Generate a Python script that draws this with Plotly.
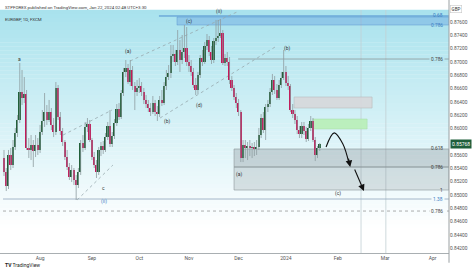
import plotly.graph_objects as go
import pandas as pd

# ---------------- data ----------------
start_date = "2023-07-10"
end_date = "2024-04-30"

opens = [
    0.85556, 0.85346, 0.85135, 0.85602, 0.85451, 0.85722, 0.85932, 0.86128, 0.86549, 0.86459,
    0.86519, 0.85707, 0.85677, 0.85752, 0.85662, 0.85752, 0.85677, 0.85947, 0.86113, 0.86248,
    0.86128, 0.86248, 0.86053, 0.85947, 0.86609, 0.86173, 0.85962, 0.85797, 0.85571, 0.85421,
    0.85271, 0.85376, 0.85226, 0.85150, 0.85346, 0.85782, 0.85707, 0.86023, 0.86068, 0.85827,
    0.85571, 0.85451, 0.85346, 0.85677, 0.85737, 0.85677, 0.85872, 0.86038, 0.85767, 0.85887,
    0.86083, 0.86293, 0.86173, 0.86534, 0.86850, 0.86910, 0.86699, 0.86880, 0.86639, 0.86549,
    0.86609, 0.86639, 0.86549, 0.86429, 0.86368, 0.86308, 0.86248, 0.86383, 0.86248, 0.86218,
    0.86429, 0.86383, 0.86639, 0.86774, 0.86835, 0.87090, 0.87120, 0.87000, 0.87181, 0.87030,
    0.87150, 0.87211, 0.87000, 0.86940, 0.86850, 0.86654, 0.86579, 0.86805, 0.87060, 0.87000,
    0.87241, 0.87331, 0.87150, 0.87030, 0.87316, 0.87361, 0.87391, 0.87436, 0.86985, 0.87060,
    0.87000, 0.86729, 0.86609, 0.86474, 0.86383, 0.86248, 0.85556, 0.85752, 0.85707, 0.85737,
    0.85707, 0.85722, 0.85692, 0.85722, 0.85902, 0.86158, 0.85977, 0.86323, 0.86368, 0.86549,
    0.86729, 0.86579, 0.86459, 0.86654, 0.86759, 0.86850, 0.86684, 0.86639, 0.86278, 0.86218,
    0.86128, 0.85977, 0.85917, 0.86038, 0.85962, 0.85842, 0.86008, 0.86113, 0.85827, 0.85602,
    0.85707]
highs = [
    0.85677, 0.85406, 0.85677, 0.85707, 0.85827, 0.86008, 0.86203, 0.86985, 0.86880, 0.86774,
    0.86579, 0.85857, 0.85902, 0.85827, 0.85902, 0.85857, 0.86053, 0.86278, 0.86534, 0.86353,
    0.86429, 0.86308, 0.86158, 0.86699, 0.86654, 0.86248, 0.86008, 0.85827, 0.85677, 0.85481,
    0.85451, 0.85406, 0.85301, 0.85406, 0.85827, 0.85902, 0.86098, 0.86158, 0.86128, 0.85857,
    0.85647, 0.85526, 0.85722, 0.85797, 0.85812, 0.85932, 0.86098, 0.86278, 0.85947, 0.86143,
    0.86368, 0.86383, 0.86579, 0.86910, 0.87030, 0.86970, 0.87030, 0.86940, 0.86699, 0.86729,
    0.86759, 0.86699, 0.86609, 0.86504, 0.86429, 0.86383, 0.86489, 0.86429, 0.86338, 0.86489,
    0.86579, 0.86699, 0.86880, 0.86955, 0.87256, 0.87256, 0.87181, 0.87481, 0.87331, 0.87406,
    0.87556, 0.87526, 0.87105, 0.87030, 0.86910, 0.86759, 0.86850, 0.87105, 0.87181, 0.87301,
    0.87421, 0.87391, 0.87241, 0.87361, 0.87632, 0.87632, 0.87647, 0.87481, 0.87120, 0.87150,
    0.87075, 0.86790, 0.86654, 0.86534, 0.86444, 0.86278, 0.85827, 0.85827, 0.85797, 0.85827,
    0.85782, 0.85797, 0.85827, 0.86008, 0.86218, 0.86248, 0.86368, 0.86429, 0.86609, 0.86820,
    0.86790, 0.86669, 0.86729, 0.86850, 0.87181, 0.86940, 0.86790, 0.86669, 0.86368, 0.86278,
    0.86188, 0.86038, 0.86098, 0.86098, 0.86023, 0.86068, 0.86188, 0.86158, 0.85872, 0.85737,
    0.85782]
lows = [
    0.85286, 0.85060, 0.85090, 0.85376, 0.85406, 0.85677, 0.85872, 0.86083, 0.86353, 0.86383,
    0.85677, 0.85556, 0.85526, 0.85421, 0.85571, 0.85602, 0.85632, 0.85902, 0.86023, 0.86053,
    0.86098, 0.85977, 0.85872, 0.85902, 0.86128, 0.85902, 0.85737, 0.85526, 0.85376, 0.85226,
    0.85195, 0.85150, 0.84925, 0.85105, 0.85301, 0.85647, 0.85677, 0.85947, 0.85797, 0.85526,
    0.85406, 0.85256, 0.85301, 0.85586, 0.85617, 0.85647, 0.85827, 0.85722, 0.85722, 0.85842,
    0.86038, 0.86128, 0.86143, 0.86489, 0.86774, 0.86669, 0.86639, 0.86579, 0.86278, 0.86489,
    0.86534, 0.86489, 0.86368, 0.86308, 0.86248, 0.86188, 0.86218, 0.86188, 0.86113, 0.86173,
    0.86338, 0.86353, 0.86579, 0.86729, 0.86759, 0.87000, 0.86940, 0.86955, 0.86850, 0.86970,
    0.87060, 0.86940, 0.86850, 0.86790, 0.86609, 0.86504, 0.86519, 0.86759, 0.86940, 0.86970,
    0.87181, 0.87090, 0.86970, 0.86985, 0.87256, 0.87301, 0.87361, 0.86955, 0.86940, 0.86940,
    0.86669, 0.86564, 0.86429, 0.86308, 0.86188, 0.85496, 0.85496, 0.85556, 0.85526, 0.85586,
    0.85556, 0.85586, 0.85602, 0.85677, 0.85857, 0.85932, 0.85827, 0.86248, 0.86323, 0.86504,
    0.86519, 0.86429, 0.86429, 0.86609, 0.86729, 0.86639, 0.86579, 0.86248, 0.86158, 0.86068,
    0.85917, 0.85857, 0.85857, 0.85902, 0.85797, 0.85812, 0.85962, 0.85797, 0.85511, 0.85556,
    0.85662]
closes = [
    0.85346, 0.85135, 0.85602, 0.85451, 0.85722, 0.85932, 0.86128, 0.86549, 0.86459, 0.86519,
    0.85707, 0.85677, 0.85752, 0.85662, 0.85752, 0.85677, 0.85947, 0.86113, 0.86248, 0.86128,
    0.86248, 0.86053, 0.85947, 0.86609, 0.86173, 0.85962, 0.85797, 0.85571, 0.85421, 0.85271,
    0.85376, 0.85226, 0.85150, 0.85346, 0.85782, 0.85707, 0.86023, 0.86068, 0.85827, 0.85571,
    0.85451, 0.85346, 0.85677, 0.85737, 0.85677, 0.85872, 0.86038, 0.85767, 0.85887, 0.86083,
    0.86293, 0.86173, 0.86534, 0.86850, 0.86910, 0.86699, 0.86880, 0.86639, 0.86549, 0.86609,
    0.86639, 0.86549, 0.86429, 0.86368, 0.86308, 0.86248, 0.86383, 0.86248, 0.86218, 0.86429,
    0.86383, 0.86639, 0.86774, 0.86835, 0.87090, 0.87120, 0.87000, 0.87181, 0.87030, 0.87150,
    0.87211, 0.87000, 0.86940, 0.86850, 0.86654, 0.86579, 0.86805, 0.87060, 0.87000, 0.87241,
    0.87331, 0.87150, 0.87030, 0.87316, 0.87361, 0.87391, 0.87436, 0.86985, 0.87060, 0.87000,
    0.86729, 0.86609, 0.86474, 0.86383, 0.86248, 0.85556, 0.85752, 0.85707, 0.85737, 0.85707,
    0.85722, 0.85692, 0.85722, 0.85902, 0.86158, 0.85977, 0.86323, 0.86368, 0.86549, 0.86729,
    0.86579, 0.86459, 0.86654, 0.86759, 0.86850, 0.86684, 0.86639, 0.86278, 0.86218, 0.86128,
    0.85977, 0.85917, 0.86038, 0.85962, 0.85842, 0.86008, 0.86113, 0.85827, 0.85602, 0.85707,
    0.85768]

month_labels = ["Aug", "Sep", "Oct", "Nov", "Dec", "2024", "Feb", "Mar", "Apr"]
price_ticks = [0.842, 0.844, 0.846, 0.848, 0.850, 0.852, 0.854, 0.856,
               0.860, 0.862, 0.864, 0.866, 0.868, 0.870, 0.872, 0.874, 0.876]
last_price = 0.85768

# fib-style levels: (price, label, label colour)
fib_levels_top = [(0.87692, "0.68", "#3d7fc4"), (0.87556, "0.786", "#3d7fc4")]
level_786_top = 0.87045
box_levels = [0.85692, 0.85421, 0.85075]
box_labels = ["0.618", "0.786", "1"]
level_138 = 0.84940
level_786_low = 0.84759

# wave labels (bar index, price, text, colour)
wave_labels = [
    (7.0, 0.87050, "a", "#333333"),
    (54.9, 0.87160, "(a)", "#333333"),
    (72.3, 0.86098, "(b)", "#333333"),
    (82.0, 0.87602, "(c)", "#333333"),
    (86.5, 0.86353, "(d)", "#333333"),
    (95.3, 0.87765, "(ii)", "#333333"),
    (125.5, 0.87206, "(b)", "#333333"),
    (104.2, 0.85301, "(a)", "#333333"),
    (148.1, 0.85030, "(c)", "#333333"),
    (43.9, 0.85105, "c", "#333333"),
    (44.3, 0.84905, "(ii)", "#3d7fc4"),
]

# trend lines (x0, y0, x1, y1) in bar index / price
trend_lines = [
    (55.9, 0.87015, 103.3, 0.87752),
    (69.2, 0.86158, 120.2, 0.87226),
    (26.2, 0.85902, 47.9, 0.86278),
    (32.4, 0.84925, 48.3, 0.85451),
]

# ---------------- geometry helpers ----------------
days = pd.bdate_range(start_date, end_date)
n = len(opens)
month_pos = [i for i in range(1, len(days)) if days[i].month != days[i - 1].month]

X0, X1 = -1.77, 197.3
Y0, Y1 = 0.84128, 0.87782

GREEN = "#22603a"
RED = "#c4195a"
WICK = "#8e9ca0"

TOP = (168, 226, 237)


def bg_at(t):
    """t = 0 at top of pane, 1 at bottom"""
    f = min(1.0, t / 0.9)
    r = [round(c + (255 - c) * f) for c in TOP]
    return "rgb(%d,%d,%d)" % tuple(r)


fig = go.Figure()

# wicks
wx, wy = [], []
for i, (h, l) in enumerate(zip(highs, lows)):
    wx += [i, i, None]
    wy += [l, h, None]
fig.add_trace(go.Scatter(x=wx, y=wy, mode="lines", line=dict(color=WICK, width=0.8),
                         hoverinfo="skip", showlegend=False))

# bodies
base = [min(o, c) for o, c in zip(opens, closes)]
height = [max(abs(c - o), 0.00006) for o, c in zip(opens, closes)]
cols = [GREEN if c >= o else RED for o, c in zip(opens, closes)]
fig.add_trace(go.Bar(x=list(range(n)), y=height, base=base, width=0.72,
                     marker=dict(color=cols, line=dict(width=0)), showlegend=False))

# projection arrows
fig.add_trace(go.Scatter(x=[142.8, 146.4, 150.2, 153.0], y=[0.85722, 0.85935, 0.85770, 0.85470],
                         mode="lines", line=dict(color="#111111", width=1.1, shape="spline"),
                         showlegend=False, hoverinfo="skip"))

shapes = []
# gradient background
NB = 60
for k in range(NB):
    shapes.append(dict(type="rect", xref="paper", yref="paper", x0=0, x1=1,
                       y0=1 - (k + 1) / NB, y1=1 - k / NB + 0.001,
                       fillcolor=bg_at((k + 0.5) / NB), line=dict(width=0), layer="below"))

# blue band at top
shapes.append(dict(type="rect", x0=76.7, x1=X1, y0=fib_levels_top[1][0], y1=0.87677,
                   fillcolor="rgba(90,150,220,0.35)", line=dict(color="rgba(70,130,200,0.6)", width=0.6),
                   layer="below"))
shapes.append(dict(type="line", x0=68.7, x1=X1, y0=fib_levels_top[0][0], y1=fib_levels_top[0][0],
                   line=dict(color="#4f8fcf", width=1), layer="below"))
# 0.786 upper
shapes.append(dict(type="line", x0=103.8, x1=X1, y0=level_786_top, y1=level_786_top,
                   line=dict(color="#7d8a8e", width=0.7), layer="below"))
# lower grey boxes
shapes.append(dict(type="rect", x0=102.0, x1=X1, y0=box_levels[1], y1=box_levels[0],
                   fillcolor="rgba(110,120,125,0.28)", line=dict(color="#8a9497", width=0.6), layer="below"))
shapes.append(dict(type="rect", x0=102.0, x1=X1, y0=box_levels[2], y1=box_levels[1],
                   fillcolor="rgba(110,120,125,0.20)", line=dict(color="#8a9497", width=0.6), layer="below"))
# 1.38 and dashed 0.786
shapes.append(dict(type="line", x0=-0.44, x1=X1, y0=level_138, y1=level_138,
                   line=dict(color="#90a6bd", width=0.8), layer="below"))
shapes.append(dict(type="line", x0=-0.44, x1=X1, y0=level_786_low, y1=level_786_low,
                   line=dict(color="#8a8a8a", width=0.7, dash="dot"), layer="below"))
# vertical lines
for vx in [158.3, 169.3]:
    shapes.append(dict(type="line", x0=vx, x1=vx, yref="paper", y0=0, y1=1,
                       line=dict(color="#c3d0d4", width=0.8), layer="below"))
# top grey box and green box
shapes.append(dict(type="rect", x0=128.6, x1=163.2, y0=0.86308, y1=0.86474,
                   fillcolor="rgba(215,215,218,0.9)", line=dict(color="#b8bcbe", width=0.6), layer="below"))
shapes.append(dict(type="rect", x0=137.0, x1=161.0, y0=0.85993, y1=0.86143,
                   fillcolor="rgba(185,238,185,0.95)", line=dict(color="#a6dca6", width=0.5), layer="below"))
# trend lines
for (a, b, c, d) in trend_lines:
    shapes.append(dict(type="line", x0=a, y0=b, x1=c, y1=d,
                       line=dict(color="#97a8ad", width=0.8, dash="dot"), layer="below"))
# price axis border line
shapes.append(dict(type="line", xref="paper", yref="paper", x0=1, x1=1, y0=-0.04, y1=1.045,
                   line=dict(color="#9aa0a3", width=1)))

ann = []
# level labels
LX = 445 / 449
for p, t, c in fib_levels_top:
    ann.append(dict(xref="paper", x=LX, y=p, text=t, showarrow=False, xanchor="right",
                    font=dict(size=4.8, color=c)))
ann.append(dict(xref="paper", x=LX, y=level_786_top, text="0.786", showarrow=False, xanchor="right",
                font=dict(size=4.8, color="#444444"), bgcolor=bg_at((Y1 - level_786_top) / (Y1 - Y0))))
for p, t in zip(box_levels, box_labels):
    ann.append(dict(xref="paper", x=LX, y=p, text=t, showarrow=False, xanchor="right",
                    font=dict(size=4.8, color="#444444")))
ann.append(dict(xref="paper", x=LX, y=level_138, text="1.38", showarrow=False, xanchor="right",
                font=dict(size=4.8, color="#3d7fc4"), bgcolor=bg_at((Y1 - level_138) / (Y1 - Y0))))
ann.append(dict(xref="paper", x=LX, y=level_786_low, text="0.786", showarrow=False, xanchor="right",
                font=dict(size=4.8, color="#444444"), bgcolor=bg_at((Y1 - level_786_low) / (Y1 - Y0))))

for (x, y, t, c) in wave_labels:
    ann.append(dict(x=x, y=y, text=t, showarrow=False, font=dict(size=5, color=c)))

# arrows heads
ann.append(dict(x=153.5, y=0.85420, ax=152.6, ay=0.85570, axref="x", ayref="y", text="",
                showarrow=True, arrowhead=2, arrowsize=1.2, arrowwidth=1.1, arrowcolor="#111111"))
ann.append(dict(x=159.6, y=0.85060, ax=155.2, ay=0.85406, axref="x", ayref="y", text="",
                showarrow=True, arrowhead=2, arrowsize=1.2, arrowwidth=1.1, arrowcolor="#111111"))

# last price tag
ann.append(dict(xref="paper", x=1.003, y=last_price, text="%.5f" % last_price, showarrow=False,
                xanchor="left", bgcolor="#1f5f3b", font=dict(size=5, color="white"), borderpad=1))
# GBP box
ann.append(dict(xref="paper", yref="paper", x=1.029, y=1.022, text="GBP", showarrow=False,
                bgcolor="white", bordercolor="#c8c8c8", borderwidth=0.6, borderpad=1,
                font=dict(size=4.5, color="#333333")))
# header texts
ann.append(dict(xref="paper", yref="paper", x=0.006, y=1.029, xanchor="left",
                text="STPFOREX published on TradingView.com, Jan 22, 2024 02:48 UTC+3:30",
                showarrow=False, font=dict(size=4.4, color="#333333")))
ann.append(dict(xref="paper", yref="paper", x=0.006, y=0.979, xanchor="left",
                text="EURGBP, 1D, FXCM", showarrow=False, font=dict(size=4.4, color="#333333")))
ann.append(dict(xref="paper", yref="paper", x=0.006, y=-0.07, xanchor="left",
                text="<b>TV</b> TradingView", showarrow=False, font=dict(size=5, color="#222222")))

fig.update_layout(
    width=474, height=276,
    margin=dict(l=0, r=25, t=10, b=23),
    paper_bgcolor="white", plot_bgcolor="white",
    font=dict(family="Roboto, Arial", size=5, color="#555555"),
    showlegend=False, bargap=0, barmode="overlay",
    shapes=shapes, annotations=ann,
    xaxis=dict(range=[X0, X1], tickvals=month_pos[:len(month_labels)], ticktext=month_labels,
               showgrid=False, zeroline=False, showline=True, linecolor="#a9afb2", linewidth=1,
               ticks="", tickfont=dict(size=5, color="#555555")),
    yaxis=dict(range=[Y0, Y1], side="right", tickvals=price_ticks,
               ticktext=["%.5f" % v for v in price_ticks], showgrid=False, zeroline=False,
               showline=False, ticks="", tickfont=dict(size=4.8, color="#555555")),
)

fig.write_html("out.html")
